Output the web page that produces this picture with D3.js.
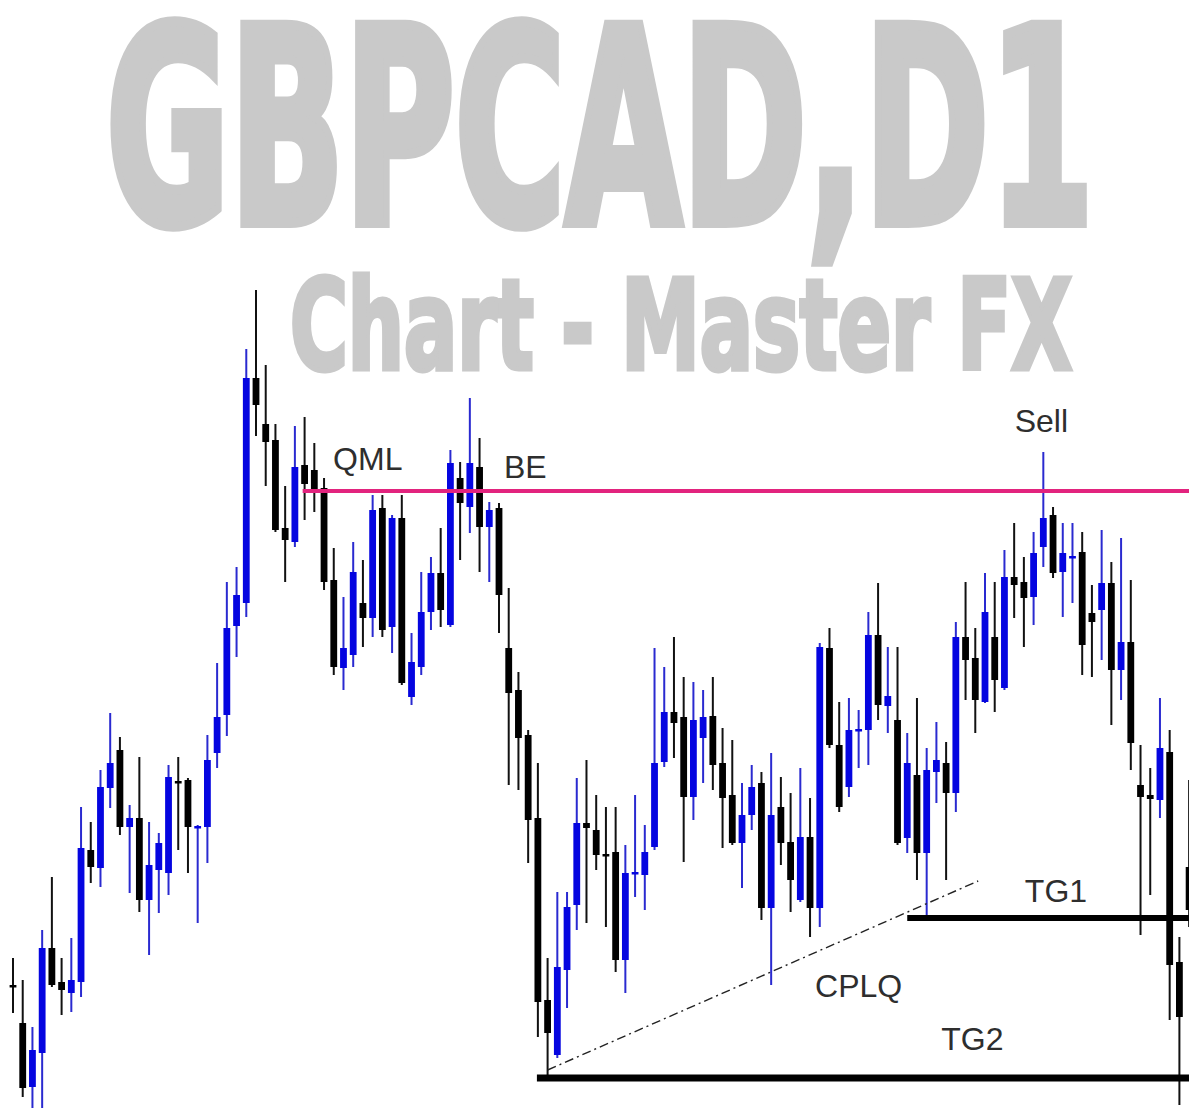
<!DOCTYPE html>
<html><head><meta charset="utf-8">
<script src="https://cdn.jsdelivr.net/npm/d3@7"></script>
<style>html,body{margin:0;padding:0;background:#fff;overflow:hidden}</style>
</head><body>
<svg id="chart" width="1189" height="1111"></svg>
<script>
// ---- data (GBPCAD daily bars) ----
const opens = [1.9015,1.8977,1.8913,1.8947,1.9052,1.9018,1.9007,1.9018,1.9150,1.9132,
1.9212,1.9250,1.9173,1.9182,1.9100,1.9130,1.9127,1.9219,1.9220,1.9172,
1.9173,1.9247,1.9285,1.9374,1.9397,1.9622,1.9576,1.9560,1.9472,1.9458,
1.9535,1.9530,1.9512,1.9420,1.9332,1.9345,1.9397,1.9382,1.9492,1.9373,
1.9482,1.9303,1.9333,1.9388,1.9427,1.9375,1.9522,1.9493,1.9533,1.9473,
1.9492,1.9352,1.9310,1.9265,1.9182,1.9000,1.8945,1.9030,1.9095,1.9177,
1.9170,1.9146,1.9148,1.9040,1.9126,1.9125,1.9153,1.9238,1.9288,1.9283,
1.9203,1.9262,1.9284,1.9237,1.9205,1.9157,1.9185,1.9217,1.9092,1.9193,
1.9158,1.9100,1.9163,1.9092,1.9352,1.9255,1.9213,1.9269,1.9270,1.9365,
1.9294,1.9280,1.9162,1.9225,1.9147,1.9228,1.9237,1.9207,1.9363,1.9342,
1.9298,1.9363,1.9312,1.9423,1.9418,1.9403,1.9453,1.9485,1.9428,1.9442,
1.9448,1.9387,1.9390,1.9417,1.9330,1.9358,1.9215,1.9205,1.9200,1.9248,
1.9038,1.9133];
const highs = [1.9042,1.9020,1.8973,1.9070,1.9123,1.9042,1.9062,1.9193,1.9178,1.9230,
1.9287,1.9263,1.9195,1.9243,1.9178,1.9167,1.9235,1.9243,1.9222,1.9175,
1.9265,1.9337,1.9418,1.9433,1.9651,1.9710,1.9635,1.9576,1.9514,1.9574,
1.9583,1.9557,1.9522,1.9452,1.9403,1.9458,1.9440,1.9505,1.9505,1.9485,
1.9505,1.9367,1.9428,1.9443,1.9472,1.9550,1.9538,1.9602,1.9562,1.9498,
1.9497,1.9412,1.9328,1.9270,1.9237,1.9042,1.9108,1.9108,1.9222,1.9240,
1.9205,1.9193,1.9193,1.9155,1.9205,1.9175,1.9352,1.9333,1.9363,1.9323,
1.9318,1.9310,1.9323,1.9272,1.9260,1.9217,1.9235,1.9228,1.9247,1.9223,
1.9207,1.9232,1.9202,1.9357,1.9372,1.9298,1.9302,1.9290,1.9388,1.9417,
1.9353,1.9353,1.9267,1.9302,1.9252,1.9278,1.9258,1.9378,1.9418,1.9372,
1.9427,1.9418,1.9450,1.9477,1.9443,1.9468,1.9548,1.9493,1.9477,1.9477,
1.9468,1.9415,1.9470,1.9438,1.9462,1.9420,1.9255,1.9232,1.9302,1.9270,
1.9063,1.9220];
const lows = [1.8987,1.8903,1.8892,1.8892,1.9013,1.8985,1.8988,1.9003,1.9117,1.9113,
1.9192,1.9165,1.9107,1.9088,1.9045,1.9087,1.9105,1.9150,1.9127,1.9077,
1.9137,1.9232,1.9264,1.9343,1.9383,1.9564,1.9514,1.9468,1.9418,1.9453,
1.9480,1.9488,1.9410,1.9325,1.9310,1.9333,1.9353,1.9363,1.9363,1.9347,
1.9315,1.9295,1.9325,1.9370,1.9373,1.9373,1.9440,1.9467,1.9428,1.9418,
1.9367,1.9215,1.9210,1.9137,1.8963,1.8925,1.8942,1.8992,1.9070,1.9077,
1.9130,1.9073,1.9028,1.9007,1.9103,1.9090,1.9150,1.9233,1.9242,1.9138,
1.9180,1.9217,1.9210,1.9152,1.9155,1.9112,1.9170,1.9080,1.9015,1.9135,
1.9088,1.9098,1.9063,1.9073,1.9252,1.9188,1.9203,1.9232,1.9235,1.9280,
1.9267,1.9155,1.9147,1.9120,1.9082,1.9197,1.9120,1.9188,1.9300,1.9267,
1.9297,1.9288,1.9310,1.9382,1.9353,1.9375,1.9433,1.9422,1.9383,1.9397,
1.9325,1.9323,1.9340,1.9275,1.9300,1.9230,1.9065,1.9105,1.9182,1.8980,
1.8895,1.9073];
const closes = [1.9013,1.8912,1.8950,1.9052,1.9015,1.9010,1.9020,1.9152,1.9133,1.9213,
1.9237,1.9173,1.9182,1.9100,1.9135,1.9157,1.9223,1.9217,1.9173,1.9174,
1.9240,1.9283,1.9372,1.9405,1.9622,1.9595,1.9558,1.9470,1.9460,1.9533,
1.9516,1.9510,1.9418,1.9333,1.9352,1.9428,1.9382,1.9490,1.9370,1.9482,
1.9317,1.9338,1.9388,1.9427,1.9390,1.9537,1.9497,1.9537,1.9473,1.9490,
1.9405,1.9307,1.9262,1.9180,1.8998,1.8967,1.9033,1.9093,1.9177,1.9172,
1.9145,1.9144,1.9040,1.9127,1.9128,1.9148,1.9237,1.9288,1.9277,1.9203,
1.9280,1.9283,1.9235,1.9202,1.9157,1.9185,1.9213,1.9092,1.9185,1.9157,
1.9120,1.9163,1.9092,1.9353,1.9255,1.9193,1.9270,1.9271,1.9365,1.9295,
1.9304,1.9157,1.9237,1.9147,1.9230,1.9240,1.9207,1.9363,1.9340,1.9300,
1.9388,1.9320,1.9423,1.9415,1.9402,1.9447,1.9482,1.9427,1.9447,1.9444,
1.9355,1.9378,1.9417,1.9330,1.9358,1.9257,1.9203,1.9201,1.9252,1.9035,
1.8983,1.9090];
const barIndex = d3.range(opens.length);

// horizontal levels
const levelNames = ["QML", "TG1", "TG2"];
const levelPrices = [1.9509, 1.9082, 1.8922];
const levelStartBars = [29.8, 92.0, 53.9];
// CPLQ trend line (bar, price)
const trendBars = [55.0, 99.3];
const trendPrices = [1.8930, 1.9119];
// text annotations
const annTexts = ["QML", "BE", "Sell", "TG1", "CPLQ", "TG2"];
const annBars = [36.5, 52.7, 105.8, 107.3, 87.0, 98.7];
const annPrices = [1.9530, 1.9522, 1.9568, 1.9098, 1.9003, 1.8950];
const titleLines = ["GBPCAD,D1", "Chart - Master FX"];

// ---- drawing ----
const W = 1189, H = 1111;
const svg = d3.select("#chart");
svg.append("rect").attr("width", W).attr("height", H).attr("fill", "#fff");

const x = d3.scaleLinear().domain([0, 121]).range([13, 13 + 9.72 * 121]);
const y = d3.scaleLinear().domain([2.0 - H / 10000, 2.0]).range([H, 0]);

// watermark titles
const titleFont = "'Liberation Sans Narrow','DejaVu Sans Condensed','Liberation Sans',sans-serif";
const tg = svg.append("g").attr("fill", "#c9c9c9").attr("stroke", "#c9c9c9");
tg.append("text").text(titleLines[0])
  .attr("x", 106).attr("y", 223)
  .attr("font-family", titleFont).attr("font-weight", "bold")
  .attr("font-size", 272).attr("textLength", 988).attr("lengthAdjust", "spacingAndGlyphs")
  .attr("stroke-width", 10).attr("stroke-linejoin", "miter");
tg.append("text").text(titleLines[1])
  .attr("x", 290).attr("y", 369)
  .attr("font-family", titleFont).attr("font-weight", "bold")
  .attr("font-size", 124).attr("textLength", 782).attr("lengthAdjust", "spacingAndGlyphs")
  .attr("stroke-width", 5).attr("stroke-linejoin", "miter");

// candles
const bull = i => closes[i] >= opens[i];
const bodyW = 6.8;
const cg = svg.append("g");
cg.selectAll("line.wick").data(barIndex).join("line")
  .attr("class", "wick")
  .attr("x1", i => x(i)).attr("x2", i => x(i))
  .attr("y1", i => y(highs[i])).attr("y2", i => y(lows[i]))
  .attr("stroke", i => bull(i) ? "#2a2ad0" : "#111")
  .attr("stroke-width", 2);
cg.selectAll("rect.body").data(barIndex).join("rect")
  .attr("class", "body")
  .attr("x", i => x(i) - bodyW / 2)
  .attr("width", bodyW)
  .attr("y", i => y(Math.max(opens[i], closes[i])))
  .attr("height", i => Math.max(2.5, Math.abs(y(opens[i]) - y(closes[i]))))
  .attr("fill", i => bull(i) ? "#0505e0" : "#000");

// levels
const levelColor = ["#e2237e", "#000", "#000"];
const levelWidth = [4, 6, 7];
svg.append("g").selectAll("line").data(levelNames).join("line")
  .attr("x1", (d, k) => x(levelStartBars[k]))
  .attr("x2", W)
  .attr("y1", (d, k) => y(levelPrices[k]))
  .attr("y2", (d, k) => y(levelPrices[k]))
  .attr("stroke", (d, k) => levelColor[k])
  .attr("stroke-width", (d, k) => levelWidth[k]);

// CPLQ dash-dot trend line
svg.append("line")
  .attr("x1", x(trendBars[0])).attr("y1", y(trendPrices[0]))
  .attr("x2", x(trendBars[1])).attr("y2", y(trendPrices[1]))
  .attr("stroke", "#222").attr("stroke-width", 1.4)
  .attr("stroke-dasharray", "9,4,2,4");

// annotation labels
svg.append("g").selectAll("text").data(annTexts).join("text")
  .text(d => d)
  .attr("x", (d, k) => x(annBars[k]))
  .attr("y", (d, k) => y(annPrices[k]))
  .attr("text-anchor", "middle")
  .attr("font-family", "'Liberation Sans', Arial, sans-serif")
  .attr("font-size", 32)
  .attr("fill", "#2e2e2e");
</script>
</body></html>
